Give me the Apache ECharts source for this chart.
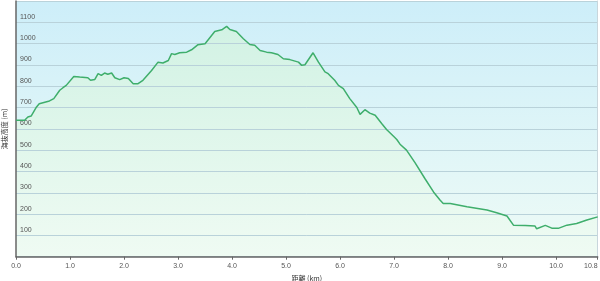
<!DOCTYPE html>
<html><head><meta charset="utf-8">
<script src="https://cdn.jsdelivr.net/npm/echarts@6/dist/echarts.min.js"></script>
<style>html,body{margin:0;padding:0;background:#fff}#c{width:600px;height:281px}</style>
</head><body><div id="c"></div>
<script>
var distances = [0, 0.16, 0.22, 0.28, 0.38, 0.43, 0.62, 0.70, 0.81, 0.87, 0.93, 1.07, 1.18, 1.33, 1.38, 1.46, 1.52, 1.58, 1.64, 1.70, 1.77, 1.83, 1.92, 1.95, 2.0, 2.08, 2.17, 2.26, 2.35, 2.51, 2.63, 2.72, 2.82, 2.88, 2.94, 3.03, 3.16, 3.25, 3.37, 3.50, 3.68, 3.81, 3.90, 3.96, 4.08, 4.21, 4.33, 4.42, 4.52, 4.64, 4.73, 4.85, 4.95, 5.07, 5.23, 5.29, 5.35, 5.50, 5.60, 5.72, 5.78, 5.81, 5.90, 5.97, 6.06, 6.18, 6.31, 6.37, 6.46, 6.55, 6.65, 6.77, 6.86, 6.99, 7.05, 7.11, 7.23, 7.39, 7.57, 7.73, 7.85, 7.91, 8.04, 8.35, 8.72, 8.90, 9.09, 9.21, 9.43, 9.61, 9.64, 9.67, 9.80, 9.92, 10.04, 10.20, 10.38, 10.57, 10.77];
var elevations = [640, 640, 656, 660, 703, 718, 731, 742, 781, 793, 804, 846, 843, 840, 828, 832, 859, 851, 862, 856, 862, 840, 831, 826, 840, 836, 812, 812, 828, 874, 913, 909, 921, 953, 949, 957, 960, 971, 995, 999, 1057, 1065, 1081, 1066, 1057, 1023, 996, 992, 968, 960, 957, 949, 929, 925, 913, 898, 901, 957, 913, 867, 859, 851, 828, 804, 789, 742, 700, 668, 690, 674, 664, 625, 597, 565, 550, 528, 500, 440, 367, 304, 266, 250, 250, 234, 219, 206, 191, 148, 147, 144, 131, 140, 147, 134, 133, 148, 156, 172, 187];
var xMin = 0, xMax = 10.77, xInterval = 1;
var yMin = 0, yMax = 1200, yInterval = 100;
var xName = '距離 (km)';
var yName = '海抜高度 (m)';

var points = distances.map(function (d, i) { return [d, elevations[i]]; });
var chart = echarts.init(document.getElementById('c'));
var lab = { fontFamily: 'Liberation Sans', fontSize: 7, color: '#555' };
chart.setOption({
  animation: false,
  grid: {
    left: 16, right: 2.3, top: 1, bottom: 24.3, show: true, borderWidth: 0,
    outerBoundsMode: 'none', containLabel: false,
    backgroundColor: { type: 'linear', x: 0, y: 0, x2: 0, y2: 1,
      colorStops: [{ offset: 0, color: '#cdeef9' }, { offset: 1, color: '#eefbf6' }] }
  },
  xAxis: {
    type: 'value', min: xMin, max: xMax, interval: xInterval, z: 6,
    name: xName, nameLocation: 'middle', nameGap: 11,
    nameTextStyle: { fontFamily: 'Noto Sans CJK JP', fontSize: 7, color: '#333' },
    axisLine: { show: true, lineStyle: { color: '#666', width: 1.5 } },
    axisTick: { show: true, length: 3, lineStyle: { color: '#666' } },
    splitLine: { show: false },
    axisLabel: Object.assign({ margin: 6, alignMaxLabel: 'right', showMaxLabel: true,
      formatter: function (v) { return v.toFixed(1); } }, lab)
  },
  yAxis: [{
    type: 'value', min: yMin, max: yMax, interval: yInterval, z: 4,
    name: yName, nameLocation: 'middle', nameGap: -2, nameRotate: 90,
    nameTextStyle: { fontFamily: 'Noto Sans CJK JP', fontSize: 7, color: '#333' },
    axisLine: { show: true, lineStyle: { color: '#666', width: 1.5 } },
    axisTick: { show: false },
    splitLine: { show: true, lineStyle: { color: '#b9d2da', width: 1 } },
    axisLabel: Object.assign({ inside: true, margin: 4, verticalAlign: 'bottom', padding: [0, 0, 2, 0],
      formatter: function (v) { return (v === 0 || v === 1200) ? '' : String(v); } }, lab)
  }, {
    type: 'value', min: yMin, max: yMax, interval: yInterval, position: 'right', z: 4,
    axisLine: { show: true, lineStyle: { color: '#c8d6dc', width: 1 } },
    axisTick: { show: false }, axisLabel: { show: false }, splitLine: { show: false }
  }],
  series: [{
    type: 'line', data: points, showSymbol: false, symbol: 'none', smooth: false, z: 1,
    lineStyle: { width: 0, opacity: 0 },
    areaStyle: { opacity: 1, color: { type: 'linear', x: 0, y: 0, x2: 0, y2: 1,
      colorStops: [{ offset: 0, color: '#d2f2e4' }, { offset: 1, color: '#effbf3' }] } }
  }, {
    type: 'line', data: points, showSymbol: false, symbol: 'none', smooth: false, z: 5,
    lineStyle: { color: '#3fae6c', width: 1.5 }
  }]
});
</script></body></html>
